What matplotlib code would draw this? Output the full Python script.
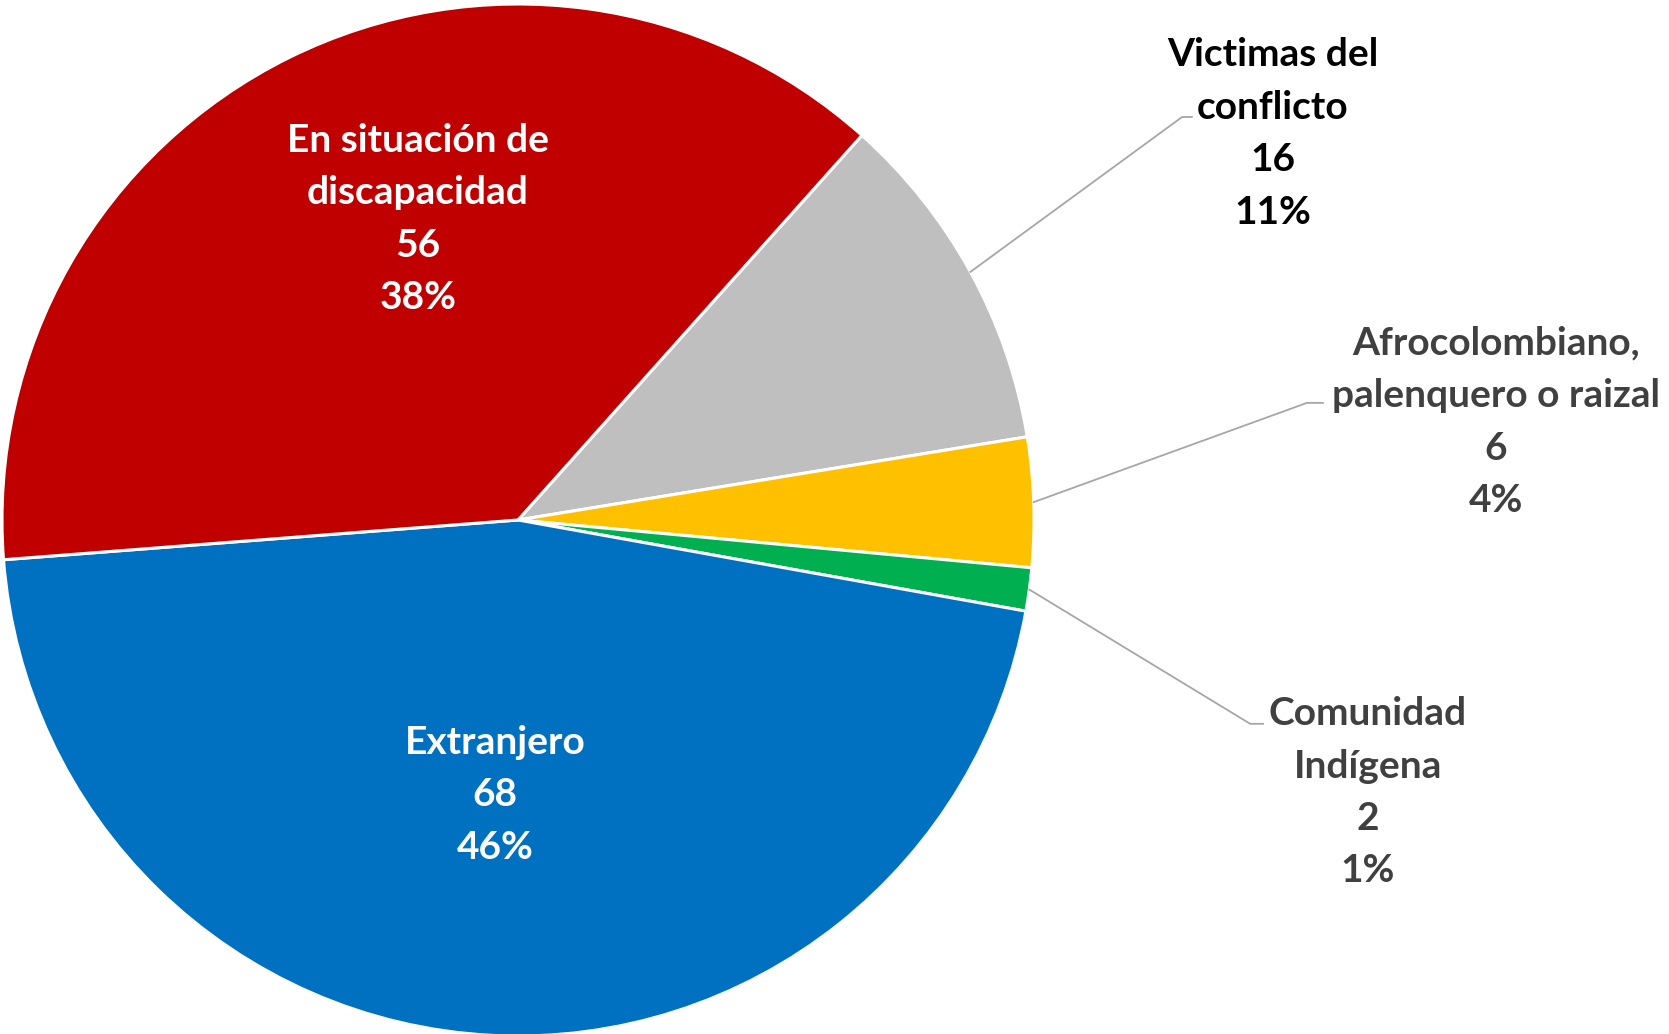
import numpy as np
import matplotlib.pyplot as plt

# data
categories = ['Victimas del\nconflicto', 'Afrocolombiano,\npalenquero o raizal',
              'Comunidad\nIndígena', 'Extranjero', 'En situación de\ndiscapacidad']
values = [16, 6, 2, 68, 56]
colors = ['#BFBFBF', '#FFC000', '#00B050', '#0070C0', '#C00000']

# label placement (data units, pie radius = 1): x center, y of first line
label_pos = [(1.463, 0.902), (1.895, 0.343), (1.647, -0.375), (-0.045, -0.431), (-0.194, 0.736)]
label_colors = ['#000000', '#404040', '#404040', 'white', 'white']
kinks = [(1.287, 0.781, 1.306), (1.529, 0.227, 1.560), (1.419, -0.395, 1.444), None, None]

W, H = 1669, 1034
R = 516
cx, cy = 518, 520
line_step = 52.5 / R

fig = plt.figure(figsize=(W / 100, H / 100), dpi=100)
ax = fig.add_axes([0, 0, 1, 1])

start = 48.2
wedges, _ = ax.pie(values, colors=colors, startangle=start, counterclock=False, radius=1,
                   wedgeprops=dict(edgecolor='white', linewidth=2.2))
ax.set_xlim(-cx / R, (W - cx) / R)
ax.set_ylim(-(H - cy) / R, cy / R)
ax.set_aspect('equal')
ax.axis('off')

total = sum(values)
for i, (cat, v) in enumerate(zip(categories, values)):
    pct = round(100 * v / total)
    x, y = label_pos[i]
    lines = cat.split('\n') + [str(v), f'{pct}%']
    for j, line in enumerate(lines):
        ax.text(x, y - j * line_step, line, ha='center', va='center', fontsize=28,
                fontweight='bold', family='Lato', color=label_colors[i])
    if kinks[i] is not None:
        w = wedges[i]
        mid = np.deg2rad((w.theta1 + w.theta2) / 2)
        kx, ky, ex = kinks[i]
        ax.plot([np.cos(mid), kx, ex], [np.sin(mid), ky, ky], color='#A6A6A6', lw=1.3)

plt.savefig('out.png', dpi=100)
